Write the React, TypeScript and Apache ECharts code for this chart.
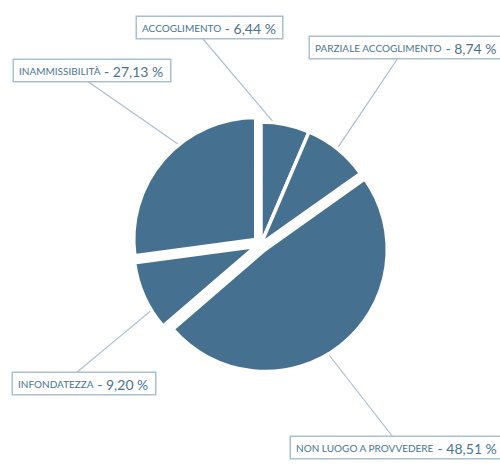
import { useEffect, useRef } from 'react';
import * as echarts from 'echarts';

const categories = [
  'ACCOGLIMENTO',
  'PARZIALE ACCOGLIMENTO',
  'NON LUOGO A PROVVEDERE',
  'INFONDATEZZA',
  'INAMMISSIBILITÀ',
];
const shares = [6.44, 8.74, 48.51, 9.2, 27.13];

// how far each slice is pulled out of the pie (px)
const pullOut = [0, 0, 7, 6, 7];
// where along its arc each slice's leader line starts (0 = start, 1 = end)
const anchorAt = [0.26, 0.49, 0.54, 0.28, 0.6];

// label boxes (same order as categories): top-left corner and where the leader line meets the box
const boxPos = [
  { x: 137, y: 17, lx: 203, ly: 39 },
  { x: 310, y: 37, lx: 398, ly: 58 },
  { x: 291, y: 437, lx: 393, ly: 437 },
  { x: 13, y: 373, lx: 76, ly: 373 },
  { x: 14, y: 60, lx: 87, ly: 81 },
];

const CX = 261;
const CY = 244;
const R = 122;
const SLICE = '#45708f';
const TEXT = '#4a7393';
const LINE = '#aabfcf';
const FONT = 'Lato';

const fmtPct = (v: number) => ` - ${v.toFixed(2).replace('.', ',')} %`;

function textWidth(ctx: CanvasRenderingContext2D, name: string, v: number) {
  ctx.font = `10px ${FONT}`;
  const a = ctx.measureText(name).width;
  ctx.font = `14px ${FONT}`;
  const b = ctx.measureText(fmtPct(v)).width;
  return Math.ceil(a + b) + 1;
}

export default function App() {
  const ref = useRef<HTMLDivElement>(null);

  useEffect(() => {
    if (!ref.current) return;
    const chart = echarts.init(ref.current, null, { renderer: 'svg' });
    const ctx = document.createElement('canvas').getContext('2d')!;

    const total = shares.reduce((s, v) => s + v, 0);
    let acc = 0;
    const series = shares.map((v, i) => {
      // angles clockwise from 12 o'clock
      const start = (acc / total) * Math.PI * 2;
      const span = (v / total) * Math.PI * 2;
      const mid = start + span / 2;
      acc += v;
      const cx = CX + Math.sin(mid) * pullOut[i];
      const cy = CY - Math.cos(mid) * pullOut[i];
      const aAng = start + span * anchorAt[i];
      const anchor = [cx + Math.sin(aAng) * R, cy - Math.cos(aAng) * R];
      return {
        type: 'pie',
        center: [cx, cy],
        radius: R,
        startAngle: 90,
        clockwise: true,
        silent: true,
        emphasis: { disabled: true },
        data: categories.map((name, j) => ({
          name,
          value: shares[j],
          itemStyle:
            j === i
              ? { color: SLICE, borderColor: '#fff', borderWidth: 3.5, borderJoin: 'round' }
              : { color: 'rgba(0,0,0,0)', borderWidth: 0 },
          label: { show: j === i, width: textWidth(ctx, name, shares[j]) },
          labelLine: { show: j === i },
        })),
        label: {
          position: 'outside',
          overflow: 'none',
          backgroundColor: '#fff',
          borderColor: LINE,
          borderWidth: 1.5,
          padding: [3, 5, 2, 5],
          formatter: (p: any) => `{n|${p.name}}{p|${fmtPct(p.value)}}`,
          rich: {
            n: { fontFamily: FONT, fontSize: 10, color: TEXT, lineHeight: 16 },
            p: { fontFamily: FONT, fontSize: 14, color: TEXT, lineHeight: 16 },
          },
        },
        labelLine: {
          lineStyle: { color: LINE, width: 1.2 },
        },
        labelLayout: (p: any) => {
          if (p.dataIndex !== i) return {};
          const b = boxPos[i];
          return {
            x: b.x,
            y: b.y,
            align: 'left',
            verticalAlign: 'top',
            labelLinePoints: [
              anchor,
              [(anchor[0] + b.lx) / 2, (anchor[1] + b.ly) / 2],
              [b.lx, b.ly],
            ],
          };
        },
      };
    });

    chart.setOption({ animation: false, backgroundColor: '#fff', series });
    return () => chart.dispose();
  }, []);

  return (
    <div
      ref={ref}
      style={{ position: 'absolute', left: 0, top: 0, width: 500, height: 471 }}
    />
  );
}
